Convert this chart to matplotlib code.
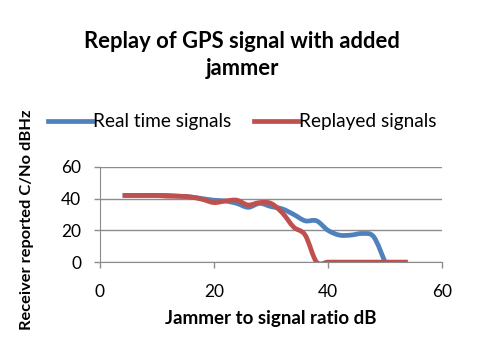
import numpy as np
import matplotlib.pyplot as plt
from matplotlib.path import Path
from matplotlib.patches import PathPatch
from matplotlib.lines import Line2D

# data
real_x = [4, 6, 8, 10, 12, 14, 16, 18, 20, 22, 24, 26, 28, 30, 32, 34, 36, 38, 40, 42, 44, 46, 48, 50]
real_y = [42, 42, 42, 42, 42, 41.5, 41, 40, 39, 38.5, 37, 34.5, 37, 35, 33.5, 30, 26, 26, 20, 17, 17, 18, 16, 0]

replay_x = [4, 6, 8, 10, 12, 14, 16, 18, 20, 22, 24, 26, 28, 30, 32, 34, 36, 38, 40, 42, 44, 46, 48, 50, 52, 54]
replay_y = [42, 42, 42, 42, 41.5, 41.5, 41, 39.5, 37.5, 38.5, 39, 36, 37.5, 37, 31, 22, 17, 0, 0, 0, 0, 0, 0, 0, 0, 0]

blue = '#4F81BD'
red = '#C0504D'


def smooth_path(x, y):
    """Excel-like smoothed line: bezier segments through the points"""
    p = np.column_stack([x, y]).astype(float)
    verts = [p[0]]
    codes = [Path.MOVETO]
    n = len(p)
    for i in range(n - 1):
        p0 = p[i - 1] if i > 0 else p[i]
        p3 = p[i + 2] if i + 2 < n else p[i + 1]
        c1 = p[i] + (p[i + 1] - p0) / 6.0
        c2 = p[i + 1] - (p3 - p[i]) / 6.0
        verts += [c1, c2, p[i + 1]]
        codes += [Path.CURVE4] * 3
    return Path(verts, codes)


plt.rcParams['font.family'] = ['Lato', 'DejaVu Sans']

fig = plt.figure(figsize=(4.8, 3.62), dpi=100)
ax = fig.add_axes([0.208, 0.276, 0.713, 0.263])

for xs, ys, c in [(real_x, real_y, blue), (replay_x, replay_y, red)]:
    ax.add_patch(PathPatch(smooth_path(xs, ys), fc='none', ec=c, lw=3.4,
                           capstyle='butt', joinstyle='round'))

ax.set_xlim(0, 60)
ax.set_ylim(0, 60)
ax.set_xticks([0, 20, 40, 60])
ax.set_yticks([0, 20, 40, 60])
ax.grid(axis='y', color='#8c8c8c', lw=1)
ax.set_axisbelow(True)
for s in ['top', 'right']:
    ax.spines[s].set_visible(False)
for s in ['left', 'bottom']:
    ax.spines[s].set_color('#8c8c8c')
ax.tick_params(colors='#8c8c8c', labelcolor='black', labelsize=12.5, length=4.5, width=1)
ax.tick_params(axis='y', pad=9)
ax.tick_params(axis='x', pad=11)

ax.set_xlabel('Jammer to signal ratio dB', fontsize=13.5, fontweight='bold')
ax.xaxis.set_label_coords(0.5, -0.5)
ax.set_ylabel('Receiver reported C/No dBHz', fontsize=11.8, fontweight='bold')
ax.yaxis.set_label_coords(-0.193, 0.44)

fig.text(0.505, 0.847, 'Replay of GPS signal with added\njammer', ha='center', va='center',
         fontsize=15.8, fontweight='bold', linespacing=1.35)

handles = [Line2D([], [], color=blue, lw=3.4), Line2D([], [], color=red, lw=3.4)]
fig.legend(handles, ['Real time signals', 'Replayed signals'], loc='center',
           bbox_to_anchor=(0.505, 0.663), ncol=2, frameon=False, fontsize=13.7,
           handlelength=2.3, handletextpad=0.05, columnspacing=1.2)

fig.savefig('out.png', dpi=100)
